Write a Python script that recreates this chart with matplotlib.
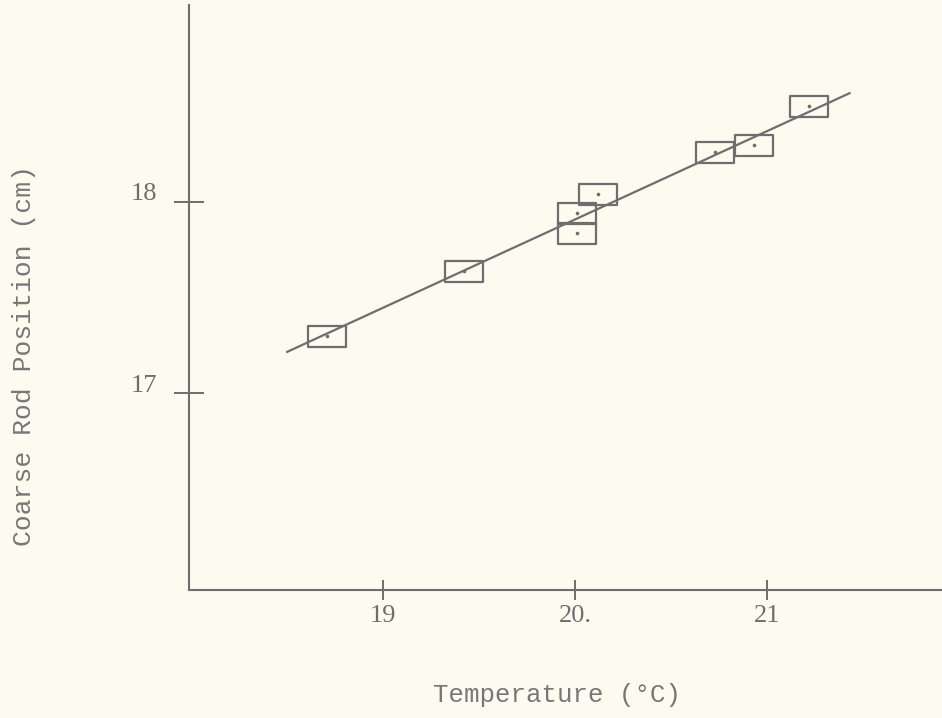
import matplotlib
matplotlib.use("Agg")
import matplotlib.pyplot as plt
import matplotlib.transforms as mtransforms
from matplotlib.path import Path

# readings
temp = [18.71, 19.42, 20.12, 20.01, 20.01, 20.73, 20.93, 21.22]
rod_pos = [17.30, 17.64, 18.04, 17.94, 17.84, 18.26, 18.30, 18.50]

# hand-drawn fit line (end points)
fit_temp = [18.50, 21.43]
fit_pos = [17.215, 18.57]

xticks = [19, 20, 21]
xticklabels = ["19", "20.", "21"]
yticks = [17, 18]
yticklabels = ["17", "18"]

ink = "#6e6e6e"
paper = "#fbfbf0"

fig = plt.figure(figsize=(9.42, 7.18), dpi=100, facecolor=paper)
ax = fig.add_axes([189 / 942, 1 - 590 / 718, 1 - 189 / 942, 585 / 718])
ax.set_facecolor(paper)

ax.plot(fit_temp, fit_pos, color=ink, lw=1.6, solid_capstyle="round")

# box marker, wider than tall
box = Path([(-1, -0.54), (1, -0.54), (1, 0.54), (-1, 0.54), (-1, -0.54)],
           [Path.MOVETO, Path.LINETO, Path.LINETO, Path.LINETO, Path.CLOSEPOLY])
ax.plot(temp, rod_pos, linestyle="none", marker=box, markersize=28,
        mfc="none", mec=ink, mew=1.6)
ax.plot(temp, rod_pos, linestyle="none", marker="o", markersize=1.6,
        color=ink)

ax.set_xlim(17.99, 21.91)
ax.set_ylim(15.969, 19.031)

for s in ["top", "right"]:
    ax.spines[s].set_visible(False)
for s in ["left", "bottom"]:
    ax.spines[s].set_color(ink)
    ax.spines[s].set_linewidth(1.5)

ax.set_xticks(xticks)
ax.set_xticklabels(xticklabels, family="Liberation Serif", fontsize=19, color=ink)
ax.set_yticks(yticks)
ax.set_yticklabels(yticklabels, family="Liberation Serif", fontsize=19, color=ink)
ax.tick_params(axis="x", direction="inout", length=15, width=1.4, color=ink, pad=3)
ax.tick_params(axis="y", direction="inout", length=22, width=1.4, color=ink, pad=12)

# y labels sit a little above their ticks
shift = mtransforms.ScaledTranslation(0, 10 / 100, fig.dpi_scale_trans)
for lab in ax.get_yticklabels():
    lab.set_transform(lab.get_transform() + shift)

fig.text(557 / 942, 1 - 695 / 718, "Temperature (°C)", family="Liberation Mono",
         fontsize=18.5, color="#777777", ha="center", va="center")
fig.text(24 / 942, 1 - 355 / 718, "Coarse Rod Position (cm)", family="Liberation Mono",
         fontsize=19, color="#777777", ha="center", va="center", rotation=90)

fig.savefig("out.png", dpi=100, facecolor=paper)
